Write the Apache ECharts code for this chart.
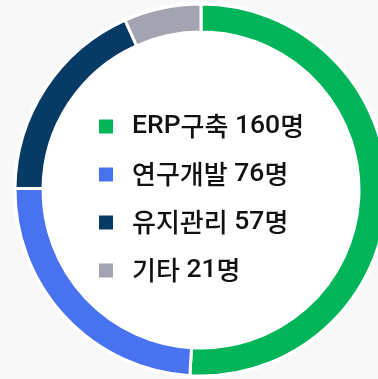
<!DOCTYPE html>
<html>
<head>
<meta charset="utf-8">
<script src="https://cdn.jsdelivr.net/npm/echarts@6/dist/echarts.min.js"></script>
<style>
  html, body { margin: 0; padding: 0; background: #f8f8f8; }
  #chart { width: 378px; height: 379px; }
</style>
</head>
<body>
<div id="chart"></div>
<script>
// 인력 구성
const categories = ['ERP구축', '연구개발', '유지관리', '기타'];
const headcounts = [160, 76, 57, 21];
const colors = ['#00b45a', '#4872f0', '#073b66', '#a3a3b2'];
const unit = '명';

const chart = echarts.init(document.getElementById('chart'), null, { renderer: 'canvas' });

const pieData = categories.map((name, i) => ({
  name: name,
  value: headcounts[i],
  itemStyle: { color: colors[i] }
}));

// 한글과 라틴 문자를 서로 다른 글꼴 크기로 나눔
function richText(str) {
  return str.replace(/([\uAC00-\uD7A3]+)|([^\uAC00-\uD7A3]+)/g, function (m, ko, lat) {
    return ko ? '{k|' + ko + '}' : '{l|' + lat + '}';
  });
}

chart.setOption({
  backgroundColor: '#f8f8f8',
  animation: false,
  legend: {
    orient: 'vertical',
    left: 92,
    top: 108,
    itemWidth: 16,
    itemHeight: 16,
    itemGap: 21,
    icon: 'rect',
    selectedMode: false,
    data: categories,
    formatter: function (name) {
      const i = categories.indexOf(name);
      return richText(name + ' ' + headcounts[i] + unit);
    },
    textStyle: {
      fontFamily: 'Roboto, "Noto Sans CJK KR", sans-serif',
      fontSize: 27,
      fontWeight: 500,
      lineHeight: 27,
      color: '#111111',
      padding: [0, 0, 0, 13],
      rich: {
        k: {
          fontFamily: '"Noto Sans CJK KR", sans-serif',
          fontSize: 26,
          fontWeight: 500,
          lineHeight: 27,
          color: '#111111'
        },
        l: {
          fontFamily: 'Roboto, sans-serif',
          fontSize: 26.5,
          fontWeight: 500,
          lineHeight: 27,
          color: '#111111'
        }
      }
    }
  },
  series: [
    {
      // 도넛 안쪽 흰 바탕
      type: 'pie',
      silent: true,
      center: [201, 190],
      radius: [0, 188],
      label: { show: false },
      itemStyle: { color: '#ffffff' },
      data: [{ value: 1, name: '' }],
      z: 0
    },
    {
      type: 'pie',
      center: [201, 190],
      radius: [158, 186],
      startAngle: 90,
      clockwise: true,
      label: { show: false },
      labelLine: { show: false },
      itemStyle: { borderColor: '#ffffff', borderWidth: 3 },
      data: pieData,
      z: 2
    }
  ]
});
</script>
</body>
</html>
